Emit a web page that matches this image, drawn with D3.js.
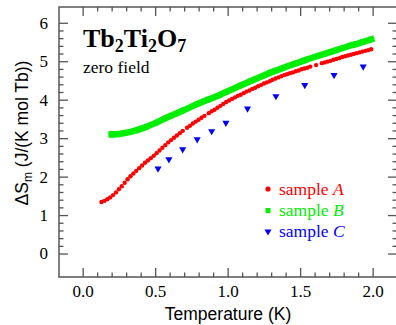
<!DOCTYPE html>
<html><head><meta charset="utf-8">
<script src="https://cdn.jsdelivr.net/npm/d3@7"></script>
<style>body{margin:0;background:#fff}svg{display:block}.tl text{font-family:'Liberation Serif','Times New Roman',serif;font-size:17px;fill:#000}</style>
</head><body><svg id="c" width="396" height="325"></svg>
<script>
// Sample A (red dots)
const tA = [0.13,0.15,0.17,0.19,0.21,0.23,0.25,0.27,0.29,0.31,0.33,0.35,0.37,0.39,0.41,0.43,0.45,0.47,0.49,0.51,0.53,0.55,0.57,0.59,0.61,0.63,0.65,0.67,0.69,0.72,0.74,0.76,0.78,0.80,0.82,0.84,0.87,0.89,0.91,0.93,0.95,0.97,0.99,1.01,1.03,1.05,1.07,1.09,1.11,1.13,1.15,1.17,1.19,1.21,1.23,1.25,1.27,1.29,1.31,1.33,1.35,1.37,1.39,1.41,1.43,1.45,1.47,1.49,1.51,1.53,1.55,1.57,1.61,1.65,1.67,1.69,1.71,1.73,1.75,1.77,1.79,1.81,1.83,1.85,1.87,1.89,1.91,1.93,1.95,1.97,1.99];
const sA = [1.34,1.37,1.41,1.46,1.52,1.59,1.67,1.75,1.84,1.93,2.01,2.08,2.15,2.22,2.29,2.36,2.42,2.48,2.54,2.61,2.68,2.75,2.82,2.89,2.95,3.01,3.07,3.13,3.19,3.27,3.32,3.38,3.43,3.48,3.53,3.58,3.65,3.70,3.74,3.79,3.84,3.89,3.94,3.98,4.02,4.06,4.10,4.13,4.17,4.21,4.24,4.28,4.31,4.35,4.38,4.42,4.45,4.48,4.52,4.55,4.58,4.61,4.64,4.66,4.69,4.71,4.74,4.76,4.79,4.81,4.83,4.86,4.90,4.95,4.97,4.99,5.01,5.04,5.06,5.08,5.11,5.13,5.15,5.17,5.19,5.21,5.23,5.25,5.27,5.29,5.31];
// Sample B (green, dense squares)
const tB = [0.20,0.25,0.30,0.35,0.40,0.45,0.50,0.55,0.60,0.65,0.70,0.75,0.80,0.85,0.90,0.95,1.00,1.05,1.10,1.15,1.20,1.25,1.30,1.35,1.40,1.45,1.50,1.55,1.60,1.65,1.70,1.75,1.80,1.85,1.90,1.95,1.99];
const sB = [3.10,3.11,3.14,3.18,3.24,3.31,3.39,3.48,3.57,3.65,3.73,3.82,3.90,3.98,4.05,4.13,4.22,4.30,4.39,4.47,4.55,4.63,4.71,4.78,4.85,4.92,4.98,5.05,5.11,5.17,5.23,5.29,5.35,5.41,5.46,5.52,5.57];
// Sample C (blue triangles)
const tC = [0.52,0.595,0.69,0.79,0.89,0.988,1.137,1.333,1.532,1.734,1.935];
const sC = [2.21,2.45,2.71,2.97,3.18,3.40,3.77,4.09,4.38,4.64,4.86];

const xMajor = [0.0,0.5,1.0,1.5,2.0];
const xLabels = ["0.0","0.5","1.0","1.5","2.0"];
const yMajor = [0,1,2,3,4,5,6];
const yLabels = ["0","1","2","3","4","5","6"];
const legendNames = ["A","B","C"];
const colors = ["#ff0000","#00ee00","#0000ff"];

const L=59,R=397,T=7,B=277;
const x = d3.scaleLinear().domain([-0.163,2.168]).range([L,R]);
const y = d3.scaleLinear().domain([-0.61,6.41]).range([B,T]);
const svg = d3.select("#c");
const axisCol = "#555";
const serif = "'Liberation Serif','Times New Roman',serif";
const sans = "'Liberation Sans',Arial,sans-serif";

const xMinor = d3.range(0,21).map(i=>i/10).filter(v=>Math.abs(v*2-Math.round(v*2))>1e-6);
const yMinor = d3.range(0,31).map(i=>i/5).filter(v=>Math.abs(v-Math.round(v))>1e-6);

function style(g){ g.select(".domain").remove(); g.selectAll(".tick line").attr("stroke",axisCol).attr("stroke-width",1.3);
  g.attr("font-family",serif).attr("font-size",17); g.selectAll("text").attr("fill","#000"); }
// bottom
svg.append("g").attr("class","tl").attr("transform",`translate(0,${B})`).call(d3.axisBottom(x).tickValues(xMajor).tickSize(-9).tickFormat((d,i)=>xLabels[i]).tickPadding(8)).call(style);
svg.append("g").attr("transform",`translate(0,${B})`).call(d3.axisBottom(x).tickValues(xMinor).tickSize(-4.5).tickFormat("")).call(style);
// top
svg.append("g").attr("transform",`translate(0,${T})`).call(d3.axisTop(x).tickValues(xMajor).tickSize(-9).tickFormat("")).call(style);
svg.append("g").attr("transform",`translate(0,${T})`).call(d3.axisTop(x).tickValues(xMinor).tickSize(-4.5).tickFormat("")).call(style);
// left
svg.append("g").attr("class","tl").attr("transform",`translate(${L},0)`).call(d3.axisLeft(y).tickValues(yMajor).tickSize(-9).tickFormat((d,i)=>yLabels[i]).tickPadding(11)).call(style);
svg.append("g").attr("transform",`translate(${L},0)`).call(d3.axisLeft(y).tickValues(yMinor).tickSize(-4.5).tickFormat("")).call(style);
// right
svg.append("g").attr("transform",`translate(${R},0)`).call(d3.axisRight(y).tickValues(yMajor).tickSize(-9).tickFormat("")).call(style);
svg.append("g").attr("transform",`translate(${R},0)`).call(d3.axisRight(y).tickValues(yMinor).tickSize(-4.5).tickFormat("")).call(style);
// frame
svg.append("rect").attr("x",L).attr("y",T).attr("width",R-L).attr("height",B-T).attr("fill","none").attr("stroke",axisCol).attr("stroke-width",1.5);

// Series B as thick band of squares
const line = d3.line().x((d,i)=>x(tB[i])).y((d,i)=>y(sB[i])).curve(d3.curveMonotoneX);
svg.append("path").attr("d",line(sB)).attr("fill","none").attr("stroke",colors[1]).attr("stroke-width",6.5).attr("stroke-linecap","square");
// Series A
svg.append("g").selectAll("circle").data(sA).join("circle")
  .attr("cx",(d,i)=>x(tA[i])).attr("cy",d=>y(d)).attr("r",2.2).attr("fill",colors[0]);
// Series C
const tri = d3.symbol().type(d3.symbolTriangle).size(22);
svg.append("g").selectAll("path").data(sC).join("path")
  .attr("d",tri).attr("fill",colors[2])
  .attr("transform",(d,i)=>`translate(${x(tC[i])},${y(d)}) rotate(180)`);

// Title
const title = svg.append("text").attr("x",83).attr("y",46.5).attr("font-family",serif).attr("font-weight","bold").attr("font-size",26).attr("fill","#000");
[["Tb",0],["2",1],["Ti",0],["2",1],["O",0],["7",1]].forEach(([s,sub])=>{
  title.append("tspan").text(s).attr("font-size",sub?18:26).attr("dy",sub?5:-5).attr("dy",(sub?5:0)- 0);
});
// reset dy for non-sub spans after subs
title.selectAll("tspan").each(function(d,i){ const sub = i%2===1; d3.select(this).attr("dy", i===0?0:(sub?5:-5)); });
svg.append("text").attr("x",83).attr("y",73).attr("font-family",serif).attr("font-size",17.5).attr("fill","#000").text("zero field");

// Legend
const ly = [189,210.5,231.5];
const lg = svg.append("g");
lg.append("circle").attr("cx",268).attr("cy",ly[0]).attr("r",2.6).attr("fill",colors[0]);
lg.append("rect").attr("x",265.5).attr("y",ly[1]-2.5).attr("width",5).attr("height",5).attr("fill",colors[1]);
lg.append("path").attr("d",tri).attr("fill",colors[2]).attr("transform",`translate(268,${ly[2]}) rotate(180)`);
legendNames.forEach((n,i)=>{
  const t = lg.append("text").attr("x",279).attr("y",ly[i]+5.5).attr("font-family",serif).attr("font-size",17.5).attr("fill",colors[i]);
  t.append("tspan").text("sample ");
  t.append("tspan").attr("font-style","italic").text(n);
});

// Axis titles
svg.append("text").attr("x",(L+R)/2).attr("y",320).attr("text-anchor","middle").attr("font-family",sans).attr("font-size",17.5).attr("fill","#000").text("Temperature (K)");
const yt = svg.append("text").attr("transform","translate(28,133) rotate(-90)").attr("text-anchor","middle").attr("font-family",sans).attr("font-size",17.5).attr("fill","#000");
yt.append("tspan").text("ΔS");
yt.append("tspan").attr("font-size",12).attr("dy",4).text("m");
yt.append("tspan").attr("dy",-4).text(" (J/(K mol Tb))");
</script></body></html>
